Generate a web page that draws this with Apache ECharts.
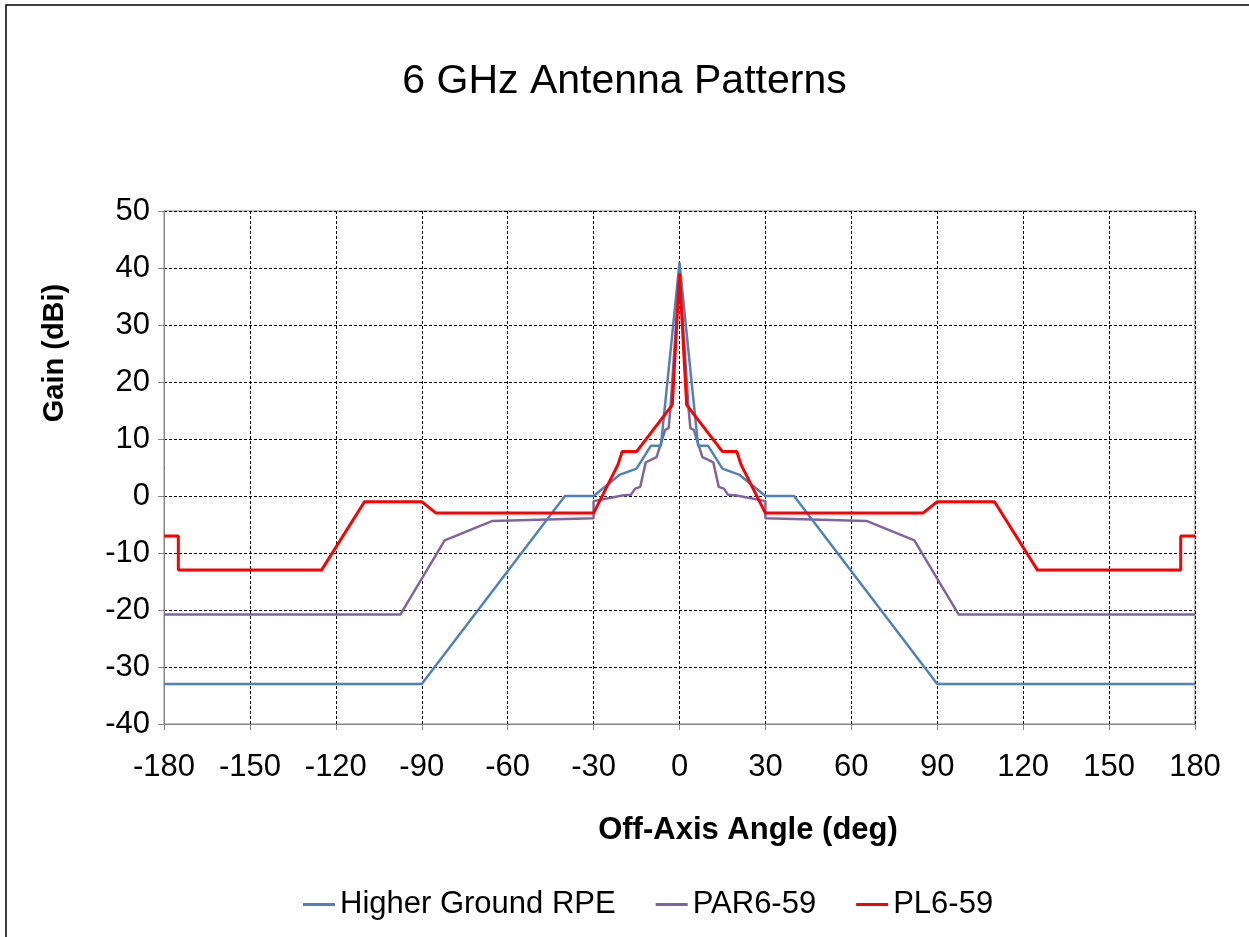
<!DOCTYPE html>
<html>
<head>
<meta charset="utf-8">
<script src="https://cdn.jsdelivr.net/npm/echarts@6/dist/echarts.min.js"></script>
<style>
html,body{margin:0;padding:0;background:#fff;}
#c{width:1249px;height:937px;}
</style>
</head>
<body>
<div id="c"></div>
<script>
const xTicks = [-180,-150,-120,-90,-60,-30,0,30,60,90,120,150,180];
const seriesNames = ['Higher Ground RPE','PAR6-59','PL6-59'];

const rpeAngle = [-180,-90,-40,-30,-21,-15,-10,-6.5,-2,0,2,6.5,10,15,21,30,40,90,180];
const rpeGain  = [-33,-33,0,0,3.7,4.8,8.8,8.8,31,41,31,8.8,8.8,4.8,3.7,0,0,-33,-33];

const parAngle = [-180,-97.5,-82,-65.5,-30,-30,-20,-17,-15.5,-13.7,-11.8,-8,-5,-3.8,-3.2,0,3.2,3.8,5,8,11.8,13.7,15.5,17,20,30,30,65.5,82,97.5,180];
const parGain  = [-20.8,-20.8,-7.8,-4.4,-3.9,-0.9,0.1,0.2,1.3,1.6,5.9,6.8,11.6,11.9,15.1,39,15.1,11.9,11.6,6.8,5.9,1.6,1.3,0.2,0.1,-0.9,-3.9,-4.4,-7.8,-20.8,-20.8];

const plAngle = [-180,-175,-175,-125,-110,-90,-85,-30,-21.5,-20,-15,-2.5,0,2.5,15,20,21.5,30,85,90,110,125,175,175,180];
const plGain  = [-7,-7,-13,-13,-1,-1,-3,-3,5.5,7.8,7.8,16,39,16,7.8,7.8,5.5,-3,-3,-1,-1,-13,-13,-7,-7];

function pairs(a,b){return a.map((v,i)=>[v,b[i]]);}

const chart = echarts.init(document.getElementById('c'));
const font = '"Liberation Sans", Arial, sans-serif';
chart.setOption({
  animation:false,
  backgroundColor:'#fff',
  graphic:[
    {type:'rect',shape:{x:6,y:5,width:1300,height:1000},style:{fill:'none',stroke:'#000',lineWidth:1.5},silent:true},
    {type:'text',x:748,y:830,style:{text:'Off-Axis Angle (deg)',font:'bold 31px "Liberation Sans", Arial, sans-serif',fill:'#000',align:'center',verticalAlign:'middle'}},
    {type:'text',x:55,y:353,rotation:Math.PI/2,style:{text:'Gain (dBi)',font:'bold 29px "Liberation Sans", Arial, sans-serif',fill:'#000',align:'center',verticalAlign:'middle'}}
  ],
  title:{text:'6 GHz Antenna Patterns',left:'center',top:56,
    textStyle:{fontFamily:font,fontSize:41,fontWeight:'normal',color:'#000'}},
  legend:{bottom:12,left:298,itemWidth:32,itemHeight:3,itemGap:40,icon:'rect',
    data:seriesNames,
    textStyle:{fontFamily:font,fontSize:31,color:'#000'}},
  grid:{left:164,right:54,top:211,bottom:213,show:true,borderColor:'#868686',borderWidth:1},
  xAxis:{type:'value',min:-180,max:180,interval:30,
    axisLine:{show:true,onZero:false,lineStyle:{color:'#868686'}},
    axisTick:{show:true,length:6,lineStyle:{color:'#868686'}},
    axisLabel:{fontFamily:font,fontSize:31,color:'#000',margin:28},
    splitLine:{show:true,lineStyle:{color:'#000',type:[3,2],width:1}}},
  yAxis:{type:'value',min:-40,max:50,interval:10,
    axisLine:{show:true,onZero:false,lineStyle:{color:'#868686'}},
    axisTick:{show:true,length:6,lineStyle:{color:'#868686'}},
    axisLabel:{fontFamily:font,fontSize:31,color:'#000',margin:14},
    splitLine:{show:true,lineStyle:{color:'#000',type:[3,2],width:1}}},
  series:[
    {name:seriesNames[0],type:'line',data:pairs(rpeAngle,rpeGain),symbol:'none',
      lineStyle:{color:'#4F81BD',width:2.5},itemStyle:{color:'#4F81BD'},z:3},
    {name:seriesNames[1],type:'line',data:pairs(parAngle,parGain),symbol:'none',
      lineStyle:{color:'#8064A2',width:2.5},itemStyle:{color:'#8064A2'},z:2},
    {name:seriesNames[2],type:'line',data:pairs(plAngle,plGain),symbol:'none',
      lineStyle:{color:'#FF0000',width:3},itemStyle:{color:'#FF0000'},z:4}
  ]
});
</script>
</body>
</html>
